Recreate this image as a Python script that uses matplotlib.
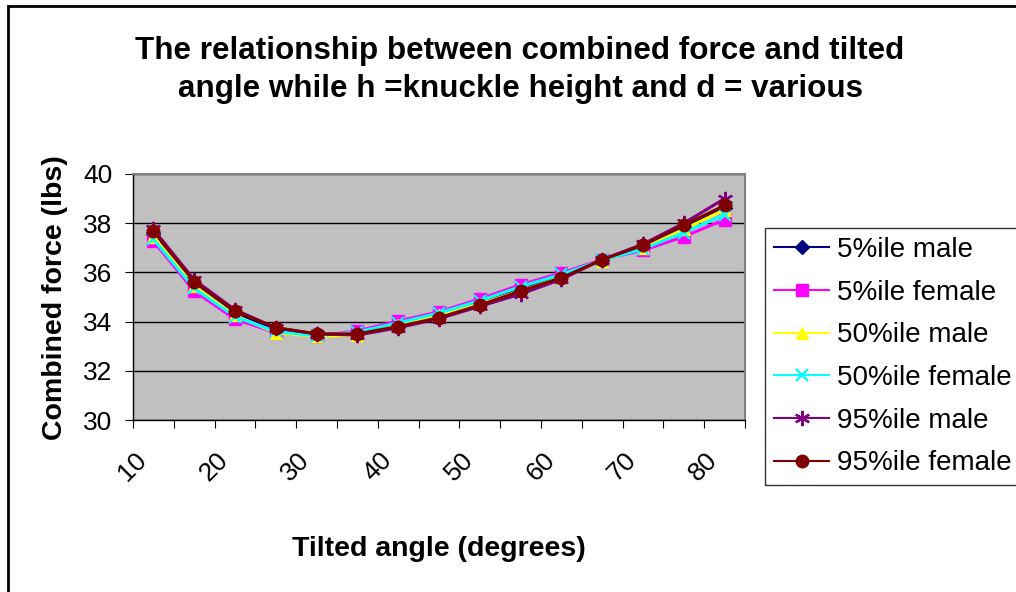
import numpy as np
import matplotlib.pyplot as plt
import matplotlib.transforms as mtransforms
from matplotlib.patches import Rectangle

plt.rcParams['font.family'] = ['Liberation Sans', 'DejaVu Sans']

angles = [10, 15, 20, 25, 30, 35, 40, 45, 50, 55, 60, 65, 70, 75, 80]
tick_labels = ['10', '20', '30', '40', '50', '60', '70', '80']

male_5 = [37.55, 35.55, 34.35, 33.65, 33.45, 33.52, 33.88, 34.25, 34.75, 35.30, 35.85, 36.50, 37.05, 37.80, 38.62]
female_5 = [37.28, 35.24, 34.10, 33.55, 33.42, 33.62, 34.02, 34.40, 34.92, 35.50, 35.98, 36.52, 36.90, 37.45, 38.15]
male_50 = [37.45, 35.45, 34.25, 33.55, 33.40, 33.45, 33.85, 34.25, 34.72, 35.25, 35.80, 36.48, 37.00, 37.75, 38.55]
female_50 = [37.35, 35.35, 34.20, 33.60, 33.42, 33.58, 33.95, 34.35, 34.85, 35.42, 35.92, 36.50, 36.95, 37.62, 38.35]
male_95 = [37.75, 35.70, 34.48, 33.75, 33.50, 33.45, 33.75, 34.12, 34.62, 35.12, 35.72, 36.52, 37.15, 38.00, 39.00]
female_95 = [37.68, 35.62, 34.43, 33.75, 33.50, 33.50, 33.80, 34.16, 34.67, 35.24, 35.78, 36.52, 37.10, 37.92, 38.72]

series = [
    ('5%ile male', male_5, '#000080', 'D', 7),
    ('5%ile female', female_5, '#FF00FF', 's', 8),
    ('50%ile male', male_50, '#FFFF00', '^', 9),
    ('50%ile female', female_50, '#00FFFF', 'x', 9),
    ('95%ile male', male_95, '#800080', (6, 2, 0), 11),
    ('95%ile female', female_95, '#800000', 'o', 9),
]

fig = plt.figure(figsize=(10.16, 5.92), dpi=100)
W, H = 1016, 592

# chart area border
fig.patches.append(Rectangle((8 / W, -0.1), 1.2, 1 - 6 / H + 0.1, transform=fig.transFigure,
                             fill=False, edgecolor='black', linewidth=2))

ax = fig.add_axes([133 / W, 1 - 420 / H, (745 - 133) / W, (420 - 174) / H])
ax.set_facecolor('#C0C0C0')
for s in ax.spines.values():
    s.set_edgecolor('#808080')
    s.set_linewidth(1.5)
ax.spines['left'].set_edgecolor('black')
ax.spines['bottom'].set_edgecolor('black')
ax.spines['left'].set_linewidth(1)
ax.spines['bottom'].set_linewidth(1)

x = np.arange(len(angles))
for label, vals, col, mk, ms in series:
    thin = mk == 'x' or isinstance(mk, tuple)
    ax.plot(x, vals, color=col, marker=mk, markersize=ms, linewidth=2.2,
            markeredgewidth=1.6 if thin else 1,
            markeredgecolor=col, markerfacecolor=col, label=label)

ax.set_ylim(30, 40)
ax.set_yticks(np.arange(30, 41, 2))
ax.yaxis.grid(True, color='black', linewidth=1)
ax.set_axisbelow(True)
ax.tick_params(axis='y', direction='out', length=6, labelsize=19, pad=9)

ax.set_xlim(-0.5, len(angles) - 0.5)
ax.set_xticks(np.arange(-0.5, len(angles)), labels=[])
ax.tick_params(axis='x', which='major', direction='out', length=6)
ax.set_xticks(x[::2], labels=tick_labels, minor=True)
ax.tick_params(axis='x', which='minor', length=0, labelsize=19, pad=20)
shift = mtransforms.ScaledTranslation(-19 / 100, 0, fig.dpi_scale_trans)
for t in ax.get_xticklabels(minor=True):
    t.set_rotation(45)
    t.set_ha('right')
    t.set_rotation_mode('anchor')
    t.set_transform(t.get_transform() + shift)

fig.text(520 / W, 1 - 70 / H, 'The relationship between combined force and tilted\nangle while h =knuckle height and d = various',
         ha='center', va='center', fontsize=22.6, fontweight='bold', linespacing=1.38)
fig.text(439 / W, 1 - 549 / H, 'Tilted angle (degrees)', ha='center', va='center',
         fontsize=20.5, fontweight='bold')
fig.text(55 / W, 1 - 298 / H, 'Combined force (lbs)', ha='center', va='center',
         fontsize=20.5, fontweight='bold', rotation=90)

leg = fig.legend(loc='upper left', bbox_to_anchor=(765 / W, 1 - 228 / H), fontsize=20,
                 frameon=True, fancybox=False, edgecolor='black', handlelength=2.0,
                 labelspacing=0.6, borderpad=0.32, handletextpad=0.28, borderaxespad=0)
leg.get_frame().set_linewidth(1)
for ln in leg.get_lines():
    ln.set_linewidth(1.5)

fig.savefig('out.png', dpi=100)
